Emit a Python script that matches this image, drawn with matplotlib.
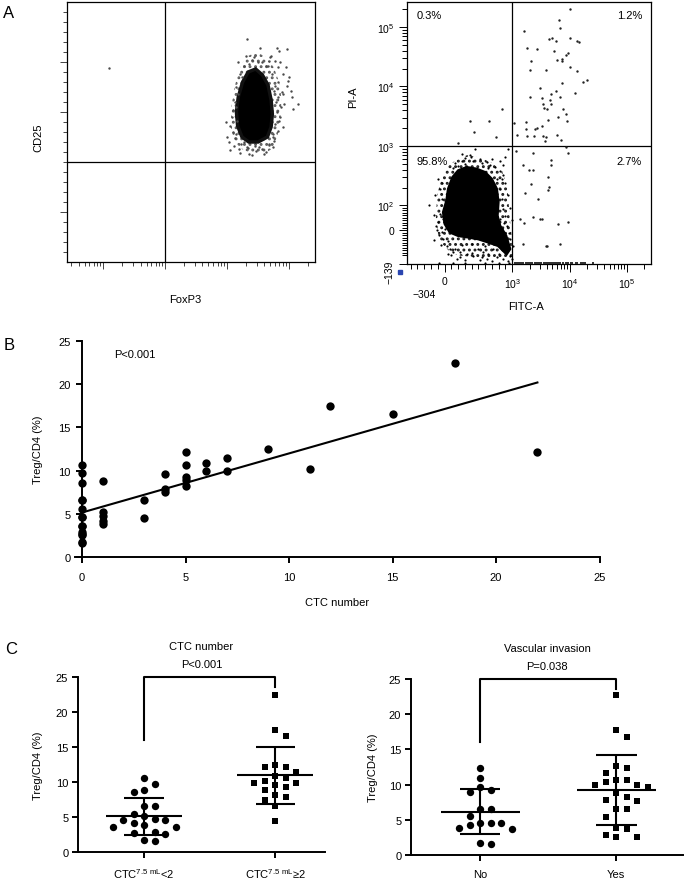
import numpy as np
import matplotlib
matplotlib.use("Agg")
import matplotlib.pyplot as plt
from matplotlib.patches import Polygon
import matplotlib.transforms as mtrans

plt.rcParams['font.family'] = ['Liberation Sans', 'DejaVu Sans']
plt.rcParams['mathtext.default'] = 'regular'
plt.rcParams['hatch.linewidth'] = 1.3

# ---------------- A (left): CD25 vs FoxP3 ----------------
foxp3_core_log = [4.34, 4.46, 4.57, 4.66, 4.71, 4.73, 4.71, 4.65, 4.50, 4.35, 4.24, 4.17, 4.15, 4.18, 4.25]
cd25_core = [190, 193, 187, 177, 162, 148, 135, 125, 120, 120, 125, 136, 150, 165, 180]
# outline of the sparser region round the dense core
foxp3_halo_log = [4.30, 4.48, 4.62, 4.75, 4.84, 4.88, 4.86, 4.82, 4.74, 4.60, 4.42, 4.26, 4.12, 4.06, 4.07, 4.12, 4.20]
cd25_halo = [205, 210, 205, 195, 180, 162, 145, 128, 114, 108, 108, 112, 120, 135, 155, 175, 193]
foxp3_dots_log = [4.328, 4.528, 4.798, 4.831, 4.966, 4.679, 4.777, 4.652, 4.571, 4.814, 4.950, 4.895, 4.977, 5.031,
                  5.139, 5.068, 4.895, 4.868, 4.841, 4.814, 4.760, 4.733, 4.625, 4.463, 4.328, 4.193, 4.112, 4.031,
                  4.139, 4.166, 4.150, 4.182, 4.247, 4.355, 4.436, 4.706, 4.814, 4.760, 4.787, 4.733, 4.517, 4.355,
                  4.679, 4.274, 2.086,
                  4.10, 4.08, 4.12, 4.15, 4.20, 4.28, 4.40, 4.50, 4.62, 4.72, 4.78, 4.82, 4.80, 4.78, 4.74,
                  4.68, 4.57, 4.45, 4.33, 4.22, 4.13, 4.05, 4.09, 4.88, 4.92, 4.86, 4.90, 4.60, 4.40, 4.20,
                  4.05, 4.70, 4.85, 5.00, 4.96, 5.05, 4.30, 4.18, 4.00, 3.98]
cd25_dots = [223, 214, 214, 211, 213, 201, 201, 196, 200, 195, 195, 188, 181, 171,
             158, 153, 168, 155, 141, 131, 121, 115, 110, 111, 115, 113, 116, 120,
             128, 141, 155, 168, 185, 198, 205, 206, 180, 171, 160, 128, 115, 108,
             118, 120, 194,
             130, 145, 160, 175, 188, 196, 202, 200, 196, 188, 176, 165, 150, 138, 125,
             117, 113, 116, 114, 118, 124, 136, 152, 170, 158, 145, 135, 108, 107, 109,
             112, 205, 200, 185, 176, 165, 206, 200, 125, 140]

# ---------------- A (right): PI vs FITC ----------------
fitc_core = [203, 326, 473, 596, 695, 769, 793, 779, 818, 907, 966, 916, 793, 646, 498, 350, 203, 80, 6, -19, 31, 55, 119]
pi_core = [386, 437, 411, 361, 279, 190, 113, 59, 19, -21, -74, -94, -61, -47, -34, -27, -21, -7, 26, 73, 121, 190, 297]
fitc_halo = [150, 330, 520, 700, 850, 930, 960, 990, 1000, 800, 600, 400, 200, 60, -80, -130, -110, -40, 40]
pi_halo = [560, 700, 640, 520, 380, 200, 60, -20, -110, -115, -110, -105, -100, -80, -40, 40, 150, 300, 450]
fitc_ll = [252, 449, 631, 670, 818, 892, 941, 523, 301, 203, 385, 818, 843, 744, -68, -68, -92, -127, -43, -19,
           31, 80, 129, -225, 818, 843, 867, 818, 892, 917, 966, 1040, 843, 227, 326, 424, 547, 646, 720, 769,
           867, 966, 227, 498, 572, 154, 55, 6, -19, -43, 769, 596,
           150, 260, 380, 560, 700, 860, 120, 640, 420, 300, -100, -140, -40, -160, -110, -80, -150, -60,
           870, 900, 930, 960, 880, 950, 990, 100, 180, 300, 400, 520, 620, 700, 800, 870, 940, 990, 50,
           260, 400, -80, 120, 300, 600, 800, 950]
pi_ll = [735, 891, 532, 480, 568, 646, 891, 605, 499, 468, 646, 385, 279, 439, 190, 66, 33, 19, -7, -34,
         -61, -74, -87, 103, 190, 129, 86, 46, 59, 19, -34, -61, 6, -87, -94, -101, -108, -94, -74, -108,
         -114, -101, -108, -74, -87, -74, -41, 6, 46, 129, 279, -61,
         520, 560, 700, 520, 600, 470, 420, 430, 560, 620, 280, 150, 240, 60, 0, -20, -40, -60,
         330, 240, 150, 90, 30, -10, 40, -100, -115, -120, -90, -120, -115, -125, -95, -80, -125, -115, -95,
         -60, -55, -132, -132, -132, -132, -132, -132]
fitc_ur_log = [4.00, 3.81, 3.83, 3.21, 3.64, 3.70, 3.76, 4.00, 4.12, 4.17, 3.25, 3.43, 3.72, 3.97, 3.93, 3.33,
               3.78, 3.86, 3.87, 4.00, 4.12, 3.31, 3.59, 4.30, 4.24, 3.86, 3.48, 3.76, 3.68, 4.09, 3.31, 3.84,
               3.52, 3.65, 3.54, 3.67, 3.56, 3.60, 3.89, 3.93, 3.80, 3.63, 3.95, 3.24, 3.51, 3.40, 3.43, 3.24,
               3.09, 3.25, 3.38, 3.53, 3.59, 3.78, 3.57, 3.85, 3.03]
pi_ur_log = [5.30, 5.12, 4.99, 4.93, 4.79, 4.81, 4.76, 4.81, 4.76, 4.74, 4.65, 4.63, 4.60, 4.56, 4.53, 4.42,
             4.45, 4.46, 4.42, 4.32, 4.26, 4.27, 4.28, 4.11, 4.08, 4.06, 3.97, 3.92, 3.87, 3.89, 3.83, 3.82,
             3.80, 3.78, 3.71, 3.71, 3.63, 3.62, 3.62, 3.54, 3.49, 3.44, 3.42, 3.41, 3.34, 3.29, 3.30, 3.28,
             3.19, 3.17, 3.16, 3.17, 3.15, 3.18, 3.09, 3.10, 3.39]
fitc_ul = [852, 370, 656, 434, 754, 197]
pi_ul_log = [3.62, 3.42, 3.42, 3.23, 3.15, 3.05]
fitc_lr_log = [3.94, 3.98, 3.68, 3.67, 3.62, 3.64, 3.63, 3.79, 3.98, 3.60, 3.84, 3.48, 3.07, 3.36, 3.19, 3.29,
               3.37, 3.13, 3.21, 3.36, 3.52, 3.19, 3.59, 3.33, 3.22, 3.45]
pi_lr = [950, 760, 590, 480, 297, 202, 183, 26, 33, -63, -55, 46, 813, 759, 479, 389,
         389, 46, 30, 53, 46, -54, -61, 229, 162, 129]
fitc_floor_log = [3.04, 3.08, 3.11, 3.16, 3.19, 3.24, 3.27, 3.31, 3.35, 3.40, 3.43, 3.47, 3.50, 3.55, 3.58,
                  3.62, 3.65, 3.69, 3.72, 3.77, 3.80, 3.84, 3.88, 3.93, 3.97, 4.02, 4.05, 4.11, 4.13, 4.19,
                  4.23, 4.27, 4.41]
pi_floor = -132
quad_pct = ['0.3%', '1.2%', '95.8%', '2.7%']

# ---------------- B: Treg/CD4 vs CTC number ----------------
ctc = [0, 0, 0, 0, 0, 0, 0, 0, 0, 0, 0, 0, 0, 0, 0,
       1, 1, 1, 1, 1,
       3, 3, 4, 4, 4, 5, 5, 5, 5, 5, 6, 6, 7, 7, 9, 11, 12, 15, 18, 22]
treg = [10.6, 9.7, 8.6, 6.6, 6.6, 5.5, 4.6, 4.6, 3.6, 3.6, 2.9, 2.7, 2.6, 1.7, 1.6,
        8.8, 5.2, 4.7, 4.2, 3.8,
        6.6, 4.5, 9.6, 7.9, 7.5, 12.2, 10.6, 9.3, 8.9, 8.2, 10.9, 9.9, 11.5, 9.9, 12.5, 10.2, 17.5, 16.6, 22.5, 12.2]
fit_intercept = 5.15
fit_slope = 0.684
fit_range = [0, 22]

# ---------------- C: group comparisons ----------------
vasc_no = [12.3, 11.0, 9.6, 9.2, 8.9, 6.6, 6.6, 5.6, 4.6, 4.6, 4.6, 4.3, 3.9, 3.7, 1.7, 1.6]
vasc_yes = [22.7, 17.7, 16.8, 12.7, 12.3, 11.7, 10.7, 10.6, 10.3, 10.0, 10.0, 9.7, 8.8, 8.3, 7.8, 7.6,
            6.6, 6.6, 5.4, 3.9, 3.7, 2.9, 2.6, 2.6]
ctc_groups = [r'CTC$^{7.5\ mL}$<2', r'CTC$^{7.5\ mL}$≥2']
vasc_groups = ['No', 'Yes']

fig = plt.figure(figsize=(6.86, 8.79), dpi=100)
W, H = 686.0, 879.0


def box(l, t, r, b):
    return [l / W, 1 - b / H, (r - l) / W, (b - t) / H]


# ---- A left ----
ax = fig.add_axes(box(67, 3, 315, 263))
ax.set_xscale('log')
ax.set_xlim(26, 262144)
ax.set_ylim(0, 260)
ax.add_patch(Polygon(np.column_stack([10 ** np.array(foxp3_halo_log), cd25_halo]), closed=True,
                     fill=False, hatch='...', ec='#5a5a5a', lw=0, zorder=1))
ax.add_patch(Polygon(np.column_stack([10 ** np.array(foxp3_core_log), cd25_core]),
                     closed=True, fc='black', ec='#111111', lw=2.5, zorder=2))
ax.scatter(10 ** np.array(foxp3_dots_log), cd25_dots, s=3, c='#4a4a4a', lw=0, zorder=3)
ax.axvline(1000, color='k', lw=0.9)
ax.axhline(100, color='k', lw=0.9)
ax.set_yticks([50, 150, 200])
ax.set_yticks(np.arange(10, 260, 10), minor=True)
ax.tick_params(which='both', direction='out', labelbottom=False, labelleft=False, width=0.7, color='#444444')
ax.tick_params(which='major', length=5)
ax.tick_params(which='minor', length=3)
for s in ax.spines.values():
    s.set_linewidth(0.9)
ax.set_ylabel('CD25', fontsize=8)
ax.yaxis.set_label_coords(-0.097, 0.48)
ax.set_xlabel('FoxP3', fontsize=8)
ax.xaxis.set_label_coords(0.476, -0.123)

# ---- A right ----
ax = fig.add_axes(box(407, 3, 651, 265))
ax.set_xscale('symlog', linthresh=1000, linscale=1.062)
ax.set_yscale('symlog', linthresh=100, linscale=0.378)
ax.set_xlim(-555, 262144)
ax.set_ylim(-139, 262144)
ax.add_patch(Polygon(np.column_stack([fitc_halo, pi_halo]), closed=True,
                     fill=False, hatch='...', ec='#1a1a1a', lw=0, zorder=1))
ax.add_patch(Polygon(np.column_stack([fitc_core, pi_core]), closed=True, fc='black', ec='black', lw=2, zorder=2))
ax.scatter(fitc_ll, pi_ll, s=2.5, c='k', lw=0, zorder=3)
ax.scatter(10 ** np.array(fitc_ur_log), 10 ** np.array(pi_ur_log), s=3, c='#222222', lw=0, zorder=3)
ax.scatter(fitc_ul, 10 ** np.array(pi_ul_log), s=3, c='#222222', lw=0, zorder=3)
ax.scatter(10 ** np.array(fitc_lr_log), pi_lr, s=3, c='#222222', lw=0, zorder=3)
ax.scatter(10 ** np.array(fitc_floor_log), [pi_floor] * len(fitc_floor_log), s=2.5, c='#333333',
           marker='s', lw=0, zorder=3)
ax.axvline(1000, color='k', lw=0.9)
ax.axhline(1000, color='k', lw=0.9)
ax.set_xticks([0, 1e3, 1e4, 1e5])
ax.set_xticklabels(['0', '$10^3$', '$10^4$', '$10^5$'])
xminor = [v for v in range(-500, 1000, 100) if v != 0]
xminor += [k * 10 ** d for d in (3, 4, 5) for k in range(2, 10) if k * 10 ** d < 262144]
ax.set_xticks(xminor, minor=True)
ax.set_yticks([-139, 0, 1e2, 1e3, 1e4, 1e5])
ax.set_yticklabels(['\u2212139', '0', '$10^2$', '$10^3$', '$10^4$', '$10^5$'])
yminor = [v for v in range(-100, 100, 10) if v != 0]
yminor += [k * 10 ** d for d in (2, 3, 4, 5) for k in range(2, 10) if k * 10 ** d < 262144]
ax.set_yticks(yminor, minor=True)
ax.get_yticklabels()[0].set_rotation(90)
ax.tick_params(which='both', direction='out', labelsize=7.5, width=0.7, pad=3)
ax.tick_params(which='major', length=6)
ax.tick_params(which='minor', length=3.5)
for s in ax.spines.values():
    s.set_linewidth(0.9)
trans = mtrans.blended_transform_factory(ax.transData, ax.transAxes)
ax.text(-304, -0.115, '\u2212304', transform=trans, ha='center', va='center', fontsize=7.5)
ax.plot([-0.029], [-0.03], 's', transform=ax.transAxes, ms=2.5, color='#2a45b0', clip_on=False)
ax.text(0.04, 0.95, quad_pct[0], transform=ax.transAxes, ha='left', va='center', fontsize=8)
ax.text(0.963, 0.95, quad_pct[1], transform=ax.transAxes, ha='right', va='center', fontsize=8)
ax.text(0.037, 0.393, quad_pct[2], transform=ax.transAxes, ha='left', va='center', fontsize=8)
ax.text(0.963, 0.393, quad_pct[3], transform=ax.transAxes, ha='right', va='center', fontsize=8)
ax.set_ylabel('PI-A', fontsize=8)
ax.yaxis.set_label_coords(-0.2, 0.641)
ax.set_xlabel('FITC-A', fontsize=8)
ax.xaxis.set_label_coords(0.488, -0.14)


def prism_axes(a):
    a.spines['top'].set_visible(False)
    a.spines['right'].set_visible(False)
    for s in ('left', 'bottom'):
        a.spines[s].set_linewidth(1.4)
    a.tick_params(direction='out', length=4, width=1.4, labelsize=8)


# ---- B ----
ax = fig.add_axes(box(74.8, 342, 599.5, 558))
prism_axes(ax)
ax.set_xlim(-0.35, 25)
ax.set_ylim(0, 25)
ax.spines['left'].set_position(('data', 0))
ax.scatter(ctc, treg, s=36, c='k', lw=0, zorder=3, clip_on=False)
fx = np.array(fit_range)
ax.plot(fx, fit_intercept + fit_slope * fx, color='k', lw=1.5, zorder=2)
ax.set_xticks(range(0, 26, 5))
ax.set_yticks(range(0, 26, 5))
ax.tick_params(axis='x', pad=7)
ax.tick_params(axis='y', pad=4)
ax.text(2.56, 23.5, 'P<0.001', ha='center', va='center', fontsize=8)
ax.set_xlabel('CTC number', fontsize=8)
ax.xaxis.set_label_coords(0.5, -0.185)
ax.set_ylabel('Treg/CD4 (%)', fontsize=8)
ax.yaxis.set_label_coords(-0.061, 0.5)


def prism_layout(vals, slot, reach, ypx):
    # place points in horizontal slots, highest value first, nearest free slot to centre
    vals = np.asarray(vals, float)
    offs = np.zeros(len(vals))
    placed = []
    for i in np.argsort(-vals):
        for j in range(60):
            o = ((j + 1) // 2) * (1 if j % 2 else -1) * slot * 0.5
            if all(abs(o - po) >= slot * 0.99 or abs(vals[i] - pv) * ypx >= reach for po, pv in placed):
                break
        placed.append((o, vals[i]))
        offs[i] = o
    return offs


def dot_panel(rect, xlim, g1, g2, labels, title, ptext, xpx, label_x):
    a = fig.add_axes(rect)
    prism_axes(a)
    a.set_xlim(*xlim)
    a.set_ylim(0, 25)
    for x, vals, mk, ms in ((1, g1, 'o', 5.3), (2, g2, 's', 4.8)):
        vals = np.asarray(vals, float)
        a.plot(x + prism_layout(vals, 10.5, 9.0, 7.0) / xpx, vals, mk, ms=ms, color='k', mew=0,
               zorder=3, clip_on=False)
        m, sd = vals.mean(), vals.std(ddof=1)
        a.hlines(m, x - 0.29, x + 0.29, color='k', lw=1.5, zorder=4)
        a.vlines(x, m - sd, m + sd, color='k', lw=1.5, zorder=4)
        a.hlines([m - sd, m + sd], x - 0.15, x + 0.15, color='k', lw=1.5, zorder=4)
    a.plot([1, 1, 2, 2], [16, 25, 25, 23.6], color='k', lw=1.5, clip_on=False)
    a.set_xticks([1, 2])
    a.set_xticklabels(labels)
    a.set_yticks(range(0, 26, 5))
    a.tick_params(axis='x', pad=6)
    a.tick_params(axis='y', pad=3)
    a.text(0.5, 1.177, title, transform=a.transAxes, ha='center', va='center', fontsize=8)
    a.text(0.5, 1.074, ptext, transform=a.transAxes, ha='center', va='center', fontsize=8)
    a.set_ylabel('Treg/CD4 (%)', fontsize=8)
    a.yaxis.set_label_coords(label_x, 0.5)
    return a


ctc_arr = np.array(ctc)
treg_arr = np.array(treg)
dot_panel(box(78, 678, 325, 853), (0.496, 2.38), treg_arr[ctc_arr < 2], treg_arr[ctc_arr >= 2],
          ctc_groups, 'CTC number', 'P<0.001', 131, -0.142)
dot_panel(box(411, 680, 683, 856), (0.493, 2.49), vasc_no, vasc_yes,
          vasc_groups, 'Vascular invasion', 'P=0.038', 136, -0.121)

# panel letters
fig.text(3 / W, 1 - 13 / H, 'A', fontsize=12, va='center', ha='left')
fig.text(4 / W, 1 - 346 / H, 'B', fontsize=12, va='center', ha='left')
fig.text(5 / W, 1 - 650 / H, 'C', fontsize=12, va='center', ha='left')

fig.savefig('out.png', dpi=100)
